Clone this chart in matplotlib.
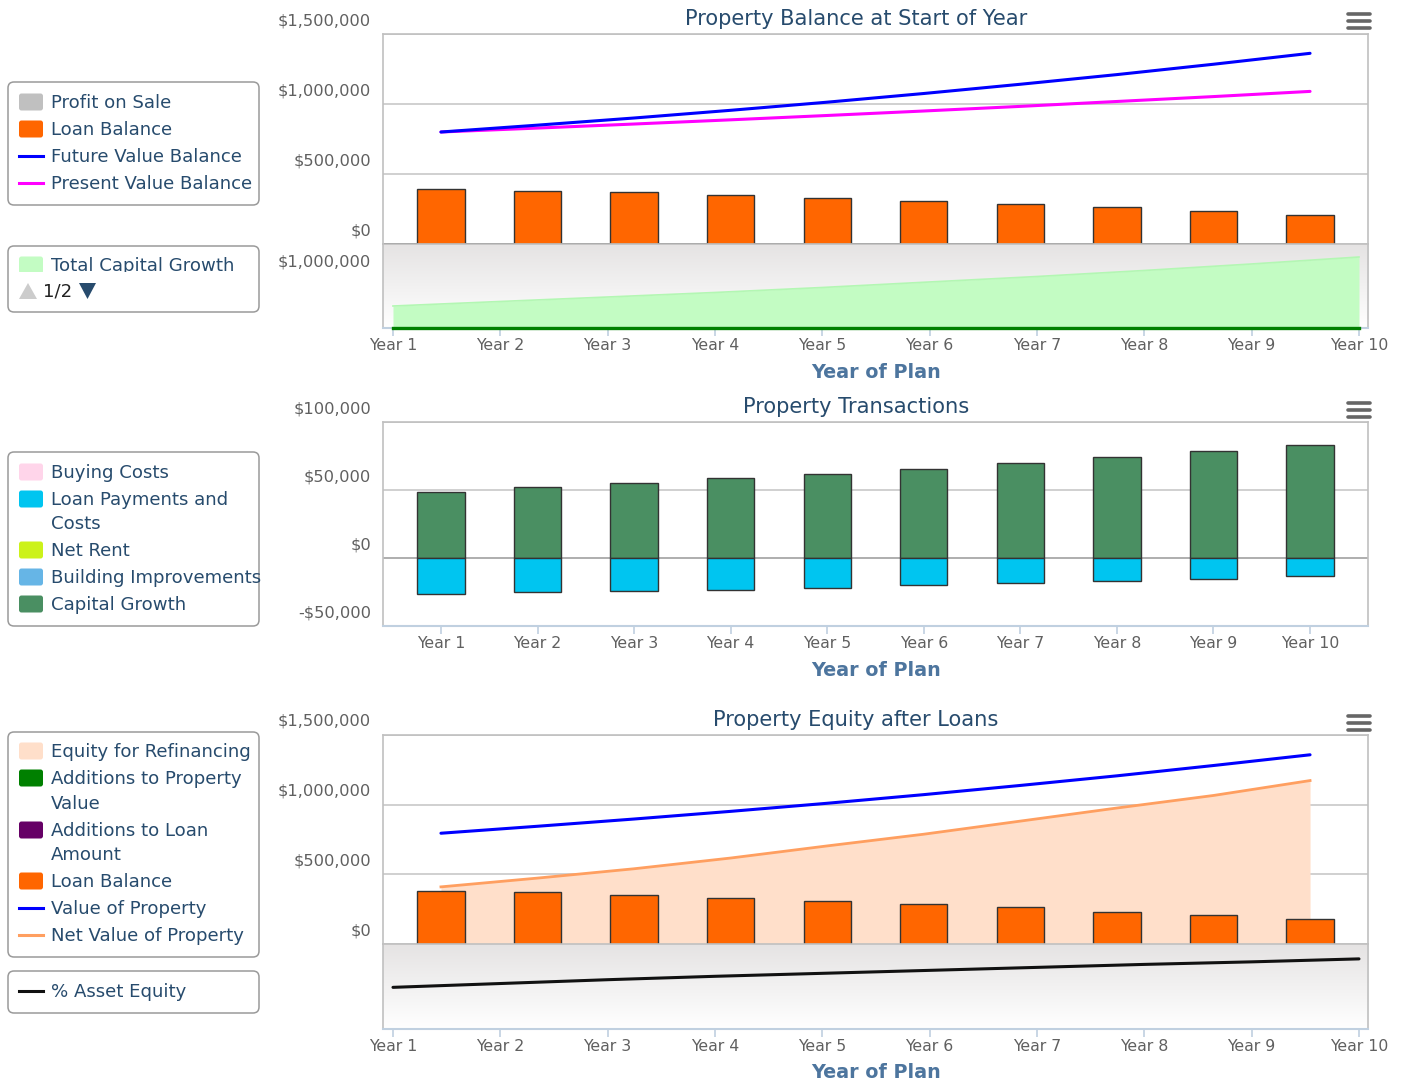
import matplotlib
matplotlib.use('Agg')
import matplotlib.pyplot as plt
import numpy as np
from matplotlib.patches import FancyBboxPatch, Polygon
from matplotlib.lines import Line2D
from matplotlib.transforms import Affine2D, Bbox, ScaledTranslation
from matplotlib.colors import LinearSegmentedColormap

plt.rcParams['font.family'] = ['DejaVu Sans']

# ---------------- data ----------------
years = [f"Year {i}" for i in range(1, 11)]

# Chart 1: Property Balance at Start of Year
future_value_balance = [800000, 849000, 900000, 955000, 1013000, 1075000, 1141000, 1210000, 1284000, 1362000]
present_value_balance = [800000, 828000, 857000, 887000, 918000, 950000, 983000, 1018000, 1053000, 1090000]
loan_balance_start = [393000, 381000, 369000, 350000, 326000, 307000, 286000, 264000, 233000, 210000]
total_capital_growth = [423000, 510000, 596000, 683000, 779000, 885000, 990000, 1106000, 1231000, 1365000]
profit_on_sale = [0] * 10

# Chart 2: Property Transactions
capital_growth = [48700, 52000, 55300, 58800, 62000, 65400, 69800, 74200, 78600, 83100]
loan_payments_costs = [-26500, -25200, -24000, -23300, -22100, -19900, -18600, -16700, -15400, -13200]

# Chart 3: Property Equity after Loans
value_of_property = [795000, 845000, 897000, 952000, 1010000, 1072000, 1138000, 1207000, 1281000, 1358000]
net_value_of_property = [410000, 473000, 540000, 617000, 704000, 788000, 882000, 976000, 1066000, 1173000]
loan_balance_end = [382000, 372000, 351000, 329000, 308000, 287000, 265000, 232000, 211000, 178000]
asset_equity_pct = [49, 53.5, 58, 62, 65.5, 69, 72.5, 76, 79, 82.5]

ticks_balance = [0, 500000, 1000000, 1500000]
ticks_balance_labels = ["$0", "$500,000", "$1,000,000", "$1,500,000"]
ticks_growth = [1000000]
ticks_growth_labels = ["$1,000,000"]
ticks_trans = [-50000, 0, 50000, 100000]
ticks_trans_labels = ["-$50,000", "$0", "$50,000", "$100,000"]

# ---------------- style ----------------
W, H, DPI = 1404, 1086, 100
ORANGE = '#ff6600'
BLUE = '#0000ff'
MAGENTA = '#ff00ff'
GREEN_BAR = '#4a8f62'
CYAN = '#00c5f0'
PEACH = '#ffdfca'
PEACH_LINE = '#ff9f60'
LIGHT_GREEN = '#c3fcc3'
TXT = '#274b6d'
LBL = '#606060'
GRID = '#c8c8c8'
AXBLUE = '#c0d0e0'
LEG_FS = 13.1

fig = plt.figure(figsize=(W / DPI, H / DPI), dpi=DPI)
T = Affine2D().scale(1, -1).translate(0, H) + Affine2D().scale(1 / DPI) + fig.dpi_scale_trans


def rect(x0, y0, x1, y1):
    return [x0 / W, 1 - y1 / H, (x1 - x0) / W, (y1 - y0) / H]


x = np.arange(len(years))
XL_TOP = (-0.6, 9.6)
XL_LOW = (-0.093, 9.084)
BAR_W = 0.49


def ylabels(ax, vals, labs):
    off = ScaledTranslation(-12 / DPI, 13.5 / DPI, fig.dpi_scale_trans)
    for v, l in zip(vals, labs):
        ax.text(0, v, l, transform=ax.get_yaxis_transform() + off, ha='right', va='center',
                fontsize=11.7, color=LBL, clip_on=False)


def style_upper(ax, yt):
    ax.set_xlim(*XL_TOP)
    ax.set_yticks(yt)
    ax.set_yticklabels([])
    ax.tick_params(axis='y', length=0)
    ax.yaxis.grid(True, color=GRID, lw=1.2)
    ax.set_axisbelow(True)
    for s in ['top', 'left', 'right']:
        ax.spines[s].set_color('#c0c0c0')
        ax.spines[s].set_linewidth(1.2)
    ax.spines['bottom'].set_visible(False)
    ax.set_xticks(x)
    ax.tick_params(axis='x', length=5, color='#dcdcdc', labelbottom=False, direction='out')


def gradient(ax):
    cm = LinearSegmentedColormap.from_list('g', ['#e5e3e3', '#ffffff'])
    ax.imshow(np.linspace(0, 1, 256).reshape(-1, 1), cmap=cm, extent=[0, 1, 0, 1],
              transform=ax.transAxes, aspect='auto', zorder=0)


def style_lower(ax, ylim):
    ax.set_xlim(*XL_LOW)
    ax.set_ylim(*ylim)
    ax.set_yticks([])
    ax.set_xticks(x)
    ax.set_xticklabels(years)
    ax.tick_params(axis='x', length=6, color=AXBLUE, width=1.2, labelcolor=LBL, labelsize=11.3, pad=1)
    for s in ['top', 'left', 'right']:
        ax.spines[s].set_color('#c0c0c0')
        ax.spines[s].set_linewidth(1.2)
    ax.spines['bottom'].set_color(AXBLUE)
    ax.spines['bottom'].set_linewidth(1.5)


def xtitle(y):
    fig.text(876, y, "Year of Plan", transform=T, ha='center', va='center', fontsize=13.8,
             fontweight='bold', color='#4d759e')


def title(y, s):
    fig.text(856, y, s, transform=T, ha='center', va='center', fontsize=15.1, color=TXT)


def menu(y):
    for dy in (-7, 0, 7):
        fig.add_artist(Line2D([1348, 1370], [y + dy, y + dy], transform=T, color='#666666',
                              lw=2.6, solid_capstyle='round'))


# ---------------- Chart 1 ----------------
ax1 = fig.add_axes(rect(383, 34, 1368, 244))
style_upper(ax1, ticks_balance)
ax1.set_ylim(0, 1500000)
ax1.bar(x, loan_balance_start, width=BAR_W, color=ORANGE, edgecolor='#333333', lw=1.0, zorder=3)
ax1.plot(x, future_value_balance, color=BLUE, lw=2.2, zorder=5, solid_capstyle='round')
ax1.plot(x, present_value_balance, color=MAGENTA, lw=2.2, zorder=4, solid_capstyle='round')
xl = ax1.get_xlim()
ax1.axhline(0, xmin=0, xmax=(x[-1] + BAR_W / 2 - xl[0]) / (xl[1] - xl[0]), color='#333333', lw=1.2, zorder=2)
ylabels(ax1, ticks_balance, ticks_balance_labels)

ax1b = fig.add_axes(rect(383, 244, 1368, 328))
gradient(ax1b)
ax1b.fill_between(x, 0, total_capital_growth, color=LIGHT_GREEN, lw=0, zorder=2)
ax1b.plot(x, total_capital_growth, color='#b3f7b3', lw=1.2, zorder=3)
ax1b.plot(x, profit_on_sale, color='#008000', lw=2.4, zorder=4, clip_on=False)
style_lower(ax1b, (0, 1615000))
ylabels(ax1b, ticks_growth, ticks_growth_labels)
title(19, "Property Balance at Start of Year")
xtitle(372)
menu(21)

# ---------------- Chart 2 ----------------
ax2 = fig.add_axes(rect(383, 422, 1368, 626))
ax2.set_xlim(*XL_TOP)
ax2.set_ylim(-50000, 100000)
ax2.set_yticks(ticks_trans)
ax2.set_yticklabels([])
ax2.tick_params(axis='y', length=0)
ax2.yaxis.grid(True, color=GRID, lw=1.2)
ax2.set_axisbelow(True)
ax2.axhline(0, color='#b0b0b0', lw=1.4, zorder=1)
ax2.bar(x, capital_growth, width=BAR_W, color=GREEN_BAR, edgecolor='#333333', lw=1.0, zorder=3)
ax2.bar(x, loan_payments_costs, width=BAR_W, color=CYAN, edgecolor='#333333', lw=1.0, zorder=3)
ax2.set_xticks(x)
ax2.set_xticklabels(years)
ax2.tick_params(axis='x', length=6, color=AXBLUE, width=1.2, labelcolor=LBL, labelsize=11.3, pad=1)
for s in ['top', 'left', 'right']:
    ax2.spines[s].set_color('#c0c0c0')
    ax2.spines[s].set_linewidth(1.2)
ax2.spines['bottom'].set_color(AXBLUE)
ax2.spines['bottom'].set_linewidth(1.5)
ylabels(ax2, ticks_trans, ticks_trans_labels)
title(407, "Property Transactions")
xtitle(670)
menu(410)

# ---------------- Chart 3 ----------------
ax3 = fig.add_axes(rect(383, 735, 1368, 944))
style_upper(ax3, ticks_balance)
ax3.set_ylim(0, 1500000)
ax3.fill_between(x, 0, net_value_of_property, color=PEACH, lw=0, zorder=2)
ax3.plot(x, net_value_of_property, color=PEACH_LINE, lw=2.0, zorder=3)
ax3.bar(x, loan_balance_end, width=BAR_W, color=ORANGE, edgecolor='#333333', lw=1.0, zorder=4)
ax3.plot(x, value_of_property, color=BLUE, lw=2.2, zorder=5, solid_capstyle='round')
ylabels(ax3, ticks_balance, ticks_balance_labels)

ax3b = fig.add_axes(rect(383, 944, 1368, 1029))
gradient(ax3b)
ax3b.plot(x, asset_equity_pct, color='#111111', lw=2.2, zorder=3, solid_capstyle='round')
style_lower(ax3b, (0, 100))
title(720, "Property Equity after Loans")
xtitle(1073)
menu(723)


# ---------------- legends ----------------
def box(y0, y1):
    fig.add_artist(FancyBboxPatch((8, y0), 251, y1 - y0, boxstyle='round,pad=0,rounding_size=6',
                                  transform=T, facecolor='white', edgecolor='#9a9a9a', lw=1.1))


def item(y, label, color, kind='sq', clip=None):
    if kind == 'sq':
        p = FancyBboxPatch((19, y - 8.5), 24, 17, boxstyle='round,pad=0,rounding_size=2.5',
                           transform=T, facecolor=color, edgecolor='none')
        fig.add_artist(p)
    else:
        p = Line2D([19, 43], [y, y], transform=T, color=color, lw=2.2)
        fig.add_artist(p)
    t = fig.text(51, y + 1, label, transform=T, ha='left', va='center', fontsize=LEG_FS, color=TXT)
    if clip is not None:
        bb = Bbox.from_extents(clip[0], H - clip[3], clip[2], H - clip[1])
        for a in (p, t):
            a.set_clip_box(bb)
            a.set_clip_on(True)
    return t


def cont(y, label):
    fig.text(51, y + 1, label, transform=T, ha='left', va='center', fontsize=LEG_FS, color=TXT)


box(82, 205)
item(102, "Profit on Sale", '#c0c0c0')
item(129, "Loan Balance", ORANGE)
item(156, "Future Value Balance", BLUE, 'line')
item(183, "Present Value Balance", MAGENTA, 'line')

box(246, 312)
item(265, "Total Capital Growth", LIGHT_GREEN, clip=(8, 246, 259, 272))
fig.add_artist(Polygon([(19, 299), (28, 283), (37, 299)], closed=True, transform=T,
                       facecolor='#cccccc', edgecolor='none'))
fig.text(43, 291, "1/2", transform=T, ha='left', va='center', fontsize=LEG_FS, color='#222222')
fig.add_artist(Polygon([(79, 283), (96, 283), (87.5, 299)], closed=True, transform=T,
                       facecolor=TXT, edgecolor='none'))

box(452, 626)
item(472, "Buying Costs", '#ffd5ea')
item(499, "Loan Payments and", CYAN)
cont(523, "Costs")
item(550, "Net Rent", '#ccf21a')
item(577, "Building Improvements", '#66b5e6')
item(604, "Capital Growth", GREEN_BAR)

box(732, 957)
item(751, "Equity for Refinancing", PEACH)
item(778, "Additions to Property", '#008000')
cont(803, "Value")
item(830, "Additions to Loan", '#660066')
cont(854, "Amount")
item(881, "Loan Balance", ORANGE)
item(908, "Value of Property", BLUE, 'line')
item(935, "Net Value of Property", PEACH_LINE, 'line')

box(971, 1013)
item(991, "% Asset Equity", '#111111', 'line')

fig.savefig('out.png', dpi=DPI)
